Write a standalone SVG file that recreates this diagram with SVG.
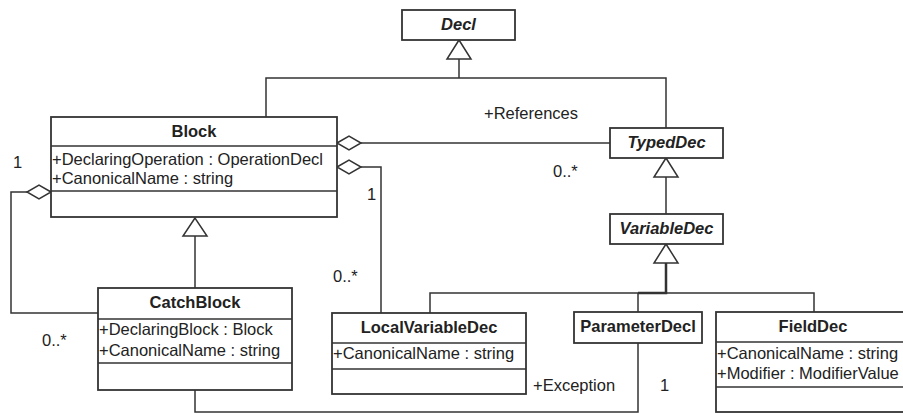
<svg xmlns="http://www.w3.org/2000/svg" width="903" height="414" viewBox="0 0 903 414">
<style>
text{font-family:"Liberation Sans",Arial,sans-serif;font-size:16.5px;fill:#222}
.t{font-weight:bold;text-anchor:middle}
.i{font-style:italic}
.box{fill:#fff;stroke:#333;stroke-width:1.8}
.sep{stroke:#333;stroke-width:1.6}
.ln{fill:none;stroke:#333;stroke-width:1.5}
.tri{fill:#fff;stroke:#333;stroke-width:1.5}
.dia{fill:#fff;stroke:#333;stroke-width:1.5}
</style>
<rect width="903" height="414" fill="#fff"/>
<g id="connectors">
<polyline class="ln" points="266,117 266,78 666,78 666,128"/>
<line class="ln" x1="459" y1="78" x2="459" y2="59"/>
<polygon class="tri" points="459,40 447,59 471,59"/>
<line class="ln" x1="361" y1="143" x2="610" y2="143"/>
<polygon class="dia" points="337,143 349,136 361,143 349,150"/>
<polyline class="ln" points="361,167 381,167 381,313"/>
<polygon class="dia" points="337,167 349,160 361,167 349,174"/>
<polyline class="ln" points="27,192 11,192 11,313 98,313"/>
<polygon class="dia" points="51,192 39,185 27,192 39,199"/>
<line class="ln" x1="195" y1="236" x2="195" y2="288"/>
<polygon class="tri" points="195,218 183,236 207,236"/>
<polyline class="ln" points="195,390 195,412 638,412 638,343"/>
<line class="ln" x1="666" y1="177" x2="666" y2="214"/>
<polygon class="tri" points="666,158 654,177 678,177"/>
<polyline class="ln" points="430,313 430,293 814,293 814,312"/>
<line class="ln" x1="638" y1="293" x2="638" y2="312"/>
<polyline class="ln" style="stroke-width:2.5" points="638,293 666,293 666,263"/>
<polygon class="tri" points="666,244 654,263 678,263"/>
<text x="484" y="119">+References</text>
<text x="553" y="177">0..*</text>
<text x="13" y="168">1</text>
<text x="367" y="200">1</text>
<text x="333" y="282">0..*</text>
<text x="42" y="346">0..*</text>
<text x="533" y="391">+Exception</text>
<text x="660" y="391">1</text>
</g>
<g id="Decl">
<rect class="box" x="402" y="10" width="113" height="30"/>
<text class="t i" x="458.5" y="30">Decl</text>
</g>
<g id="Block">
<rect class="box" x="51" y="117" width="286" height="100"/>
<line class="sep" x1="51" y1="146" x2="337" y2="146"/>
<line class="sep" x1="51" y1="191" x2="337" y2="191"/>
<text class="t" x="194" y="137">Block</text>
<text x="52" y="165">+DeclaringOperation : OperationDecl</text>
<text x="52" y="184">+CanonicalName : string</text>
</g>
<g id="TypedDec">
<rect class="box" x="610" y="128" width="113" height="30"/>
<text class="t i" x="666.5" y="148">TypedDec</text>
</g>
<g id="VariableDec">
<rect class="box" x="610" y="214" width="113" height="30"/>
<text class="t i" x="666.5" y="234">VariableDec</text>
</g>
<g id="CatchBlock">
<rect class="box" x="98" y="288" width="194" height="102"/>
<line class="sep" x1="98" y1="319" x2="292" y2="319"/>
<line class="sep" x1="98" y1="363" x2="292" y2="363"/>
<text class="t" x="195" y="308">CatchBlock</text>
<text x="99" y="335">+DeclaringBlock : Block</text>
<text x="99" y="356">+CanonicalName : string</text>
</g>
<g id="LocalVariableDec">
<rect class="box" x="332" y="313" width="194" height="81"/>
<line class="sep" x1="332" y1="343" x2="526" y2="343"/>
<line class="sep" x1="332" y1="369" x2="526" y2="369"/>
<text class="t" x="429" y="333">LocalVariableDec</text>
<text x="333" y="359">+CanonicalName : string</text>
</g>
<g id="ParameterDecl">
<rect class="box" x="574" y="312" width="128" height="31"/>
<text class="t" x="638" y="332">ParameterDecl</text>
</g>
<g id="FieldDec">
<rect class="box" x="716" y="312" width="196" height="100"/>
<line class="sep" x1="716" y1="342" x2="912" y2="342"/>
<line class="sep" x1="716" y1="387" x2="912" y2="387"/>
<text class="t" x="813" y="332">FieldDec</text>
<text x="717" y="359">+CanonicalName : string</text>
<text x="717" y="379">+Modifier : ModifierValue</text>
</g>
</svg>
